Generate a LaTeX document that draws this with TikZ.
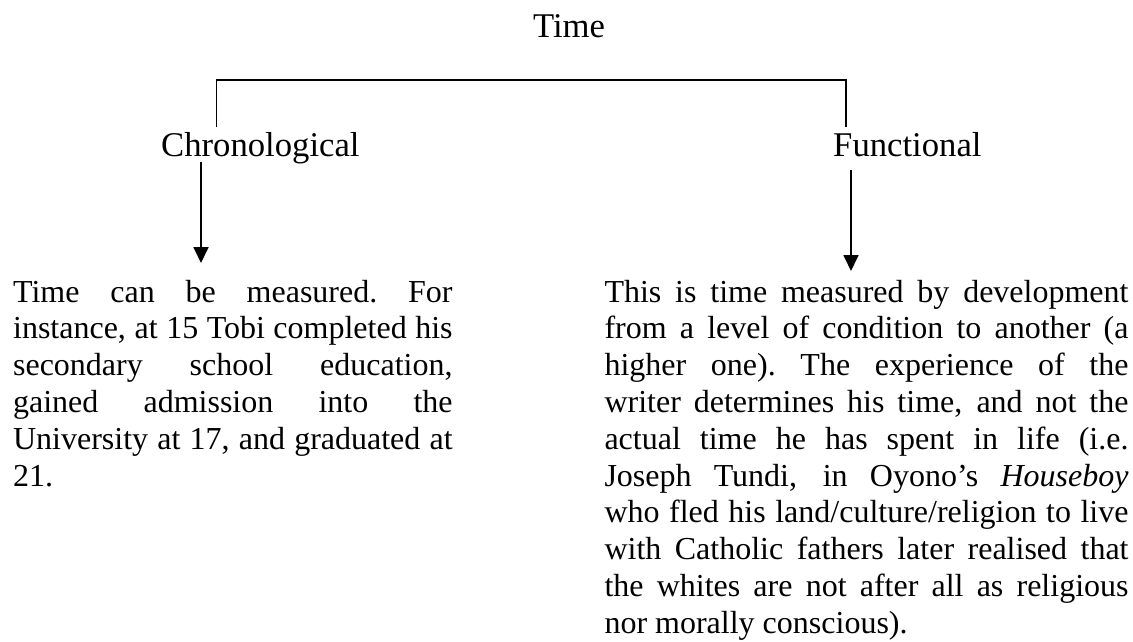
\documentclass[tikz,border=0pt]{standalone}
\usepackage{fontspec}
\setmainfont{Liberation Serif}
\usetikzlibrary{arrows.meta}
\newcommand\jset{\spaceskip=3pt plus 1fil minus 0.4pt\xspaceskip=\spaceskip\parfillskip=0pt plus 1fill\hyphenpenalty=10000\exhyphenpenalty=10000\tolerance=10000}
\begin{document}
\begin{tikzpicture}[x=0.375pt,y=-0.375pt,
  heading/.style={inner sep=0pt, font=\fontsize{13pt}{15pt}\selectfont},
  para/.style={inner sep=0pt, anchor=base west, font=\fontsize{12pt}{13.8pt}\selectfont},
  bracket/.style={line width=0.6pt, line join=miter},
  arr/.style={line width=0.75pt, -{Triangle[width=5.6pt,length=6pt]}}]
\useasboundingbox (0,0) rectangle (1133,641);
\node[heading, anchor=base] (time) at (569,37) {Time};
\node[heading, anchor=base west] (chron) at (160.7,156.7) {Chronological};
\node[heading, anchor=base west] (func) at (832.7,156.7) {Functional};
\node[para, text width=164.8pt] (ctext) at (12.6,302) {\jset Time can be measured. For\linebreak
instance, at 15 Tobi completed his\linebreak
secondary school education,\linebreak
gained admission into the\linebreak
University at 17, and graduated at\linebreak
21.\par};
\node[para, text width=196.5pt] (ftext) at (604,302) {\jset This is time measured by development\linebreak
from a level of condition to another (a\linebreak
higher one). The experience of the\linebreak
writer determines his time, and not the\linebreak
actual time he has spent in life (i.e.\linebreak
Joseph Tundi, in Oyono’s \textit{Houseboy}\linebreak
who fled his land/culture/religion to live\linebreak
with Catholic fathers later realised that\linebreak
the whites are not after all as religious\linebreak
nor morally conscious).\par};
\coordinate (bl) at (216.5,80);
\coordinate (br) at (846,80);
\coordinate (bld) at (216.5,127);
\coordinate (brd) at (846,127);
\draw[bracket] (bld) -- (bl) -- (br) -- (brd);
\coordinate (ca) at (201,162);
\coordinate (ct) at (201,263);
\coordinate (fa) at (851,170);
\coordinate (ft) at (851,271);
\draw[arr] (ca) -- (ct);
\draw[arr] (fa) -- (ft);
\end{tikzpicture}
\end{document}
